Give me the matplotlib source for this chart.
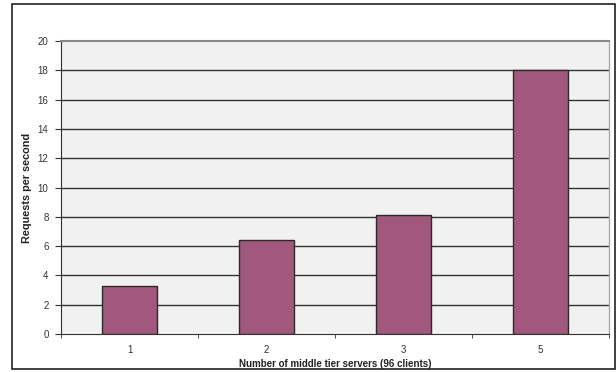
import matplotlib
matplotlib.use("Agg")
import matplotlib.pyplot as plt
from matplotlib.patches import Rectangle

categories = ["1", "2", "3", "5"]
values = [3.3, 6.4, 8.1, 18.0]
yticks = [0, 2, 4, 6, 8, 10, 12, 14, 16, 18, 20]

plt.rcParams['font.family'] = ['Liberation Sans', 'DejaVu Sans']

W, H = 616, 372
fig = plt.figure(figsize=(W / 100, H / 100), dpi=100)
fig.patch.set_facecolor("white")

# outer border
fig.patches.append(Rectangle((11.5 / W, 1 - 368.5 / H), (614.5 - 11.5) / W, (368.5 - 3.5) / H,
                             transform=fig.transFigure, fill=False, edgecolor="#222222", lw=1.2))

left, right, top, bottom = 61, 609, 41, 334
ax = fig.add_axes([left / W, 1 - bottom / H, (right - left) / W, (bottom - top) / H])
ax.set_facecolor("#f1f1f1")

x = list(range(len(categories)))
ax.bar(x, values, width=0.4, color="#a2577c", edgecolor="#2a2a2a", linewidth=1.0, zorder=3)

ax.set_xlim(-0.5, len(categories) - 0.5)
ax.set_ylim(0, 20)
ax.set_yticks(yticks)
ax.set_yticklabels([str(v) for v in yticks], fontsize=7, color="#333333")
ax.set_xticks(x)
ax.set_xticklabels(categories, fontsize=7, color="#333333")
ax.set_xticks([i - 0.5 for i in range(len(categories) + 1)], minor=True)
ax.tick_params(axis="x", which="major", length=0, pad=8)
ax.tick_params(axis="x", which="minor", length=3, direction="out", color="#333333")
ax.tick_params(axis="y", length=4, direction="out", color="#333333", pad=5)

for v in yticks[1:-1]:
    ax.axhline(v, color="#333333", lw=1.0, zorder=1)

ax.spines["top"].set_color("#888888")
ax.spines["top"].set_linewidth(1.5)
ax.spines["right"].set_color("#aaaaaa")
ax.spines["right"].set_linewidth(1.0)
ax.spines["left"].set_color("#333333")
ax.spines["bottom"].set_color("#333333")

ax.set_xlabel("Number of middle tier servers (96 clients)", fontsize=7, fontweight="bold",
              color="#222222", labelpad=3)
ax.set_ylabel("Requests per second", fontsize=7.8, fontweight="bold", color="#222222", labelpad=4)

fig.savefig("out.png", dpi=100)
